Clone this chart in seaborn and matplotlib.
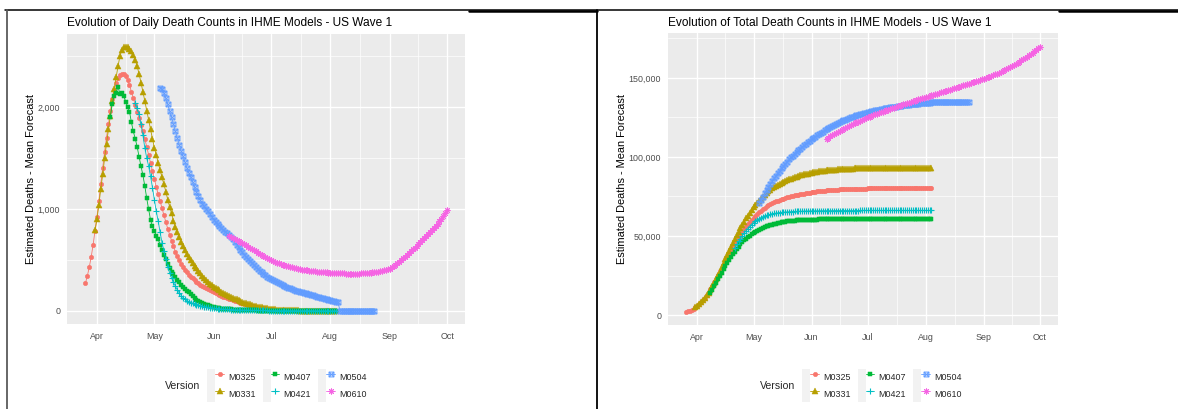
import numpy as np
import pandas as pd
import matplotlib
matplotlib.use("Agg")
import matplotlib.pyplot as plt
import matplotlib.dates as mdates
import seaborn as sns
from matplotlib.path import Path
from matplotlib.lines import Line2D
from matplotlib.patches import Patch
from matplotlib.legend_handler import HandlerTuple
from matplotlib.ticker import FuncFormatter, FixedLocator, MultipleLocator

# ---------------- data ----------------
versions = ["M0325", "M0331", "M0407", "M0421", "M0504", "M0610"]
start_dates = ["2020-03-26", "2020-03-31", "2020-04-08", "2020-04-21", "2020-05-04", "2020-06-09"]
# cumulative deaths already counted before each forecast's first day
prior_totals = [1800, 4000, 12100, 40600, 68400, 110850]

daily_m0325 = [
    272, 345, 430, 530, 650, 785,
    925, 1075, 1245, 1400, 1560, 1700, 1830, 1960, 2080, 2170,
    2235, 2280, 2310, 2325, 2322, 2305, 2268, 2215, 2150, 2090,
    2020, 1955, 1890, 1825, 1765, 1690, 1610, 1530, 1450, 1370,
    1290, 1215, 1145, 1075, 1005, 938, 870, 805, 745, 688,
    632, 580, 535, 497, 462, 432, 403, 378, 355, 336,
    318, 300, 284, 270, 257, 245, 234, 222, 212, 202,
    192, 182, 173, 164, 155, 147, 140, 133, 126, 119,
    112, 105, 98, 92, 86, 80, 74, 68, 63, 58,
    53, 48, 44, 40, 36, 32, 29, 26, 23, 20,
    18, 16, 14, 12, 10, 9, 8, 7, 6, 5,
    4, 4, 3, 3, 3, 2, 2, 2, 2, 1,
    1, 1, 1, 1, 1, 1, 1, 1, 1, 1,
    1, 0, 0, 0, 0, 0,
]
daily_m0331 = [
    790,
    900, 1040, 1200, 1340, 1500, 1640, 1780, 1910, 2060, 2180,
    2290, 2400, 2500, 2560, 2585, 2592, 2588, 2570, 2545, 2510,
    2465, 2400, 2325, 2240, 2150, 2060, 1965, 1875, 1780, 1690,
    1600, 1530, 1455, 1380, 1310, 1240, 1170, 1090, 1020, 955,
    885, 825, 775, 725, 680, 635, 597, 560, 528, 497,
    468, 443, 418, 394, 370, 345, 322, 300, 283, 266,
    250, 236, 224, 212, 200, 189, 178, 167, 157, 147,
    138, 129, 120, 112, 104, 96, 88, 81, 74, 68,
    62, 56, 51, 46, 41, 37, 33, 29, 26, 23,
    20, 18, 16, 14, 12, 10, 9, 8, 7, 6,
    5, 4, 4, 3, 3, 3, 2, 2, 2, 2,
    1, 1, 1, 1, 1, 1, 1, 1, 1, 1,
    1, 1, 0, 0, 0, 0,
]
daily_m0407 = [
    1905, 2030, 2110, 2140, 2199, 2130, 2135, 2110, 2050, 2005,
    1955, 1850, 1760, 1690, 1610, 1513, 1420, 1333, 1225, 1105,
    997, 892, 830, 784, 735, 700, 650, 595, 545, 505,
    460, 420, 385, 360, 330, 300, 280, 258, 238, 218,
    198, 180, 162, 147, 128, 110, 96, 85, 75, 68,
    60, 53, 47, 41, 36, 32, 28, 25, 22, 20,
    18, 17, 15, 13, 12, 10, 9, 8, 7, 6,
    5, 5, 4, 4, 3, 3, 3, 2, 2, 2,
    2, 1, 1, 1, 1, 1, 1, 1, 1, 1,
    1, 1, 1, 0, 0, 0, 0, 0, 0, 0,
    0, 0, 0, 0, 0, 0, 0, 0, 0, 0,
    0, 0, 0, 0, 0, 0, 0, 0, 0,
]
daily_m0421 = [
    2040, 1990, 1930, 1830, 1725, 1600, 1500, 1420, 1320, 1210,
    1090, 975, 880, 770, 670, 585, 505, 430, 370, 320,
    280, 240, 205, 175, 150, 130, 112, 100, 90, 80,
    72, 66, 60, 55, 50, 45, 41, 37, 34, 31,
    28, 26, 24, 22, 20, 18, 16, 15, 14, 13,
    12, 11, 10, 9, 8, 8, 7, 7, 6, 6,
    5, 5, 5, 4, 4, 4, 3, 3, 3, 3,
    2, 2, 2, 2, 2, 2, 1, 1, 1, 1,
    1, 1, 1, 1, 1, 1, 1, 1, 1, 1,
    1, 1, 1, 1, 0, 0, 0, 0, 0, 0,
    0, 0, 0, 0, 0, 0,
]
daily_m0504 = [
    2190, 2180, 2134, 2085, 2026, 1961, 1900, 1830, 1760, 1695,
    1630, 1570, 1515, 1460, 1405, 1355, 1310, 1265, 1215, 1170,
    1125, 1085, 1050, 1025, 1000, 975, 950, 920, 895, 870,
    850, 830, 812, 795, 778, 760, 742, 724, 700, 675,
    650, 625, 600, 575, 552, 530, 510, 490, 470, 450,
    430, 412, 395, 378, 362, 348, 335, 322, 310, 299,
    288, 278, 268, 259, 250, 242, 234, 226, 219, 212,
    205, 199, 193, 187, 181, 176, 171, 166, 161, 156,
    152, 145, 139, 134, 129, 124, 119, 114, 109, 104,
    99, 94, 88, 83,
    0, 0, 0, 0, 0, 0, 0, 0, 0, 0,
    0, 0, 0, 0, 0, 0, 0, 0, 0,
]
daily_m0610 = [
    730, 722, 712, 703, 694, 684, 674, 664, 653, 642,
    630, 618, 606, 594, 582, 570, 558, 547, 536, 526,
    516, 507, 498, 489, 481, 473, 466, 459, 453, 447,
    441, 436, 431, 426, 421, 417, 413, 409, 405, 402,
    399, 396, 393, 391, 389, 387, 385, 383, 381, 379,
    378, 376, 375, 374, 373, 372, 371, 370, 369, 368,
    367, 366, 365, 364, 364, 364, 364, 365, 366, 367,
    368, 369, 370, 372, 374, 376, 378, 381, 384, 388,
    392, 397, 402, 408, 415, 425, 437, 451, 466, 482,
    498, 515, 532, 549, 566, 584, 602, 620, 638, 656,
    675, 694, 713, 733, 753, 773, 794, 815, 836, 855,
    880, 905, 930, 960, 990,
]
dailies = [daily_m0325, daily_m0331, daily_m0407, daily_m0421, daily_m0504, daily_m0610]

titles = ["Evolution of Daily Death Counts in IHME Models - US Wave 1",
          "Evolution of Total Death Counts in IHME Models - US Wave 1"]
y_title = "Estimated Deaths - Mean Forecast"
legend_title = "Version"

colors = ["#F8766D", "#B79F00", "#00BA38", "#00BFC4", "#619CFF", "#F564E3"]

# ---------------- build table ----------------
frames = []
for v, s, base, d in zip(versions, start_dates, prior_totals, dailies):
    dates = pd.date_range(s, periods=len(d), freq="D")
    d = np.asarray(d, dtype=float)
    frames.append(pd.DataFrame({"date": dates, "Version": v,
                                "daily": d, "total": base + np.cumsum(d)}))
df = pd.concat(frames, ignore_index=True)

# ---------------- marker styles (ggplot shapes 16,17,15,3,7,8) ----------------
sq_cross = Path([(-1, -1), (1, -1), (1, 1), (-1, 1), (-1, -1),
                 (-1, -1), (1, 1), (-1, 1), (1, -1)],
                [Path.MOVETO, Path.LINETO, Path.LINETO, Path.LINETO, Path.CLOSEPOLY,
                 Path.MOVETO, Path.LINETO, Path.MOVETO, Path.LINETO])
marker_spec = {
    "M0325": dict(marker="o", ms=3.2, filled=True, mew=0.35),
    "M0331": dict(marker="^", ms=3.9, filled=True, mew=0.35),
    "M0407": dict(marker="s", ms=3.0, filled=True, mew=0.35),
    "M0421": dict(marker="+", ms=4.2, filled=False, mew=0.8),
    "M0504": dict(marker=sq_cross, ms=3.5, filled=False, mew=0.7),
    "M0610": dict(marker=(8, 2, 0), ms=4.2, filled=False, mew=0.7),
}

# ---------------- style ----------------
sns.set_theme(style="darkgrid", rc={
    "axes.facecolor": "#EBEBEB", "grid.color": "white", "figure.facecolor": "white",
    "axes.edgecolor": "none",
})
plt.rcParams["font.family"] = ["Liberation Sans", "DejaVu Sans"]

W, H = 1178, 409
fig = plt.figure(figsize=(W / 100, H / 100), dpi=100)

panels = [
    dict(col="daily", rect=(67.4, 465.2, 33.5, 324.0), major=1000, minor=500,
         vlab=(165, 207), title=titles[0]),
    dict(col="total", rect=(668.4, 1057.7, 33.3, 325.0), major=50000, minor=25000,
         vlab=(760, 802), title=titles[1]),
]

tick_col = "#4D4D4D"
for p in panels:
    x0, x1, yt, yb = p["rect"]
    ax = fig.add_axes([x0 / W, 1 - yb / H, (x1 - x0) / W, (yb - yt) / H])
    sns.lineplot(data=df, x="date", y=p["col"], hue="Version", hue_order=versions,
                 palette=colors, estimator=None, linewidth=0.6, legend=False, ax=ax)
    for line, v, c in zip(ax.lines, versions, colors):
        sp = marker_spec[v]
        line.set_marker(sp["marker"])
        line.set_markersize(sp["ms"])
        line.set_markeredgecolor(c)
        line.set_markeredgewidth(sp["mew"])
        line.set_markerfacecolor(c if sp["filled"] else "none")

    # ggplot-like scale expansion (5%)
    dmin, dmax = df["date"].min(), df["date"].max()
    span = dmax - dmin
    ax.set_xlim(mdates.date2num(dmin - 0.05 * span), mdates.date2num(dmax + 0.05 * span))
    vmin, vmax = df[p["col"]].min(), df[p["col"]].max()
    ax.set_ylim(vmin - 0.05 * (vmax - vmin), vmax + 0.05 * (vmax - vmin))

    ax.xaxis.set_major_locator(mdates.MonthLocator())
    ax.xaxis.set_major_formatter(mdates.DateFormatter("%b"))
    majors = ax.xaxis.get_majorticklocs()
    ax.xaxis.set_minor_locator(FixedLocator((majors[:-1] + majors[1:]) / 2))
    ax.yaxis.set_major_locator(MultipleLocator(p["major"]))
    ax.yaxis.set_minor_locator(MultipleLocator(p["minor"]))
    ax.yaxis.set_major_formatter(FuncFormatter(lambda v, pos: f"{v:,.0f}"))

    ax.grid(which="major", color="white", linewidth=1.0)
    ax.grid(which="minor", color="white", linewidth=0.5)
    ax.set_axisbelow(True)
    ax.tick_params(which="major", length=2.2, width=0.5, color="#333333",
                   labelsize=6.4, labelcolor=tick_col, direction="out")
    ax.tick_params(axis="y", pad=3.0)
    ax.tick_params(axis="x", pad=3.5)
    ax.tick_params(which="minor", length=0)
    for s in ax.spines.values():
        s.set_visible(False)

    ax.set_xlabel("")
    ax.set_ylabel(y_title, fontsize=7.9, color="black", labelpad=1.5)
    ax.set_title(p["title"], loc="left", fontsize=8.6, color="black", pad=5.5)

    # legend below the panel
    handles = []
    for v, c in zip(versions, colors):
        sp = marker_spec[v]
        ln = Line2D([], [], color=c, lw=0.6, marker=sp["marker"], markersize=sp["ms"],
                    markerfacecolor=(c if sp["filled"] else "none"),
                    markeredgecolor=c, markeredgewidth=sp["mew"])
        handles.append((Patch(facecolor="#F2F2F2", edgecolor="none"), ln))
    tx, kx = p["vlab"]
    fig.text(tx / W, 1 - 386 / H, legend_title, fontsize=7.6, ha="left", va="center")
    fig.legend(handles, versions, handler_map={tuple: HandlerTuple(ndivide=None, pad=0)},
               ncol=3, loc="center left", bbox_to_anchor=(kx / W, 1 - 385.5 / H),
               frameon=False, fontsize=6.4, numpoints=1, handlelength=1.9,
               handleheight=2.56, labelspacing=0.0, handletextpad=0.45,
               columnspacing=0.8, borderpad=0, borderaxespad=0)

# ---------------- surrounding table borders ----------------
def hline(xa, xb, y, lw, col="black"):
    fig.add_artist(Line2D([xa / W, xb / W], [1 - y / H, 1 - y / H],
                          transform=fig.transFigure, color=col, lw=lw))

def vline(x, ya, yb, lw, col="black"):
    fig.add_artist(Line2D([x / W, x / W], [1 - ya / H, 1 - yb / H],
                          transform=fig.transFigure, color=col, lw=lw))

hline(5, 1178, 10.2, 1.1)
hline(469, 597, 10.6, 1.8)
hline(1059, 1178, 10.6, 1.8)
vline(7, 9.5, 409, 1.3, "#5A5A5A")
vline(597, 9.5, 409, 1.3, "black")

fig.savefig("out.png", dpi=100)
